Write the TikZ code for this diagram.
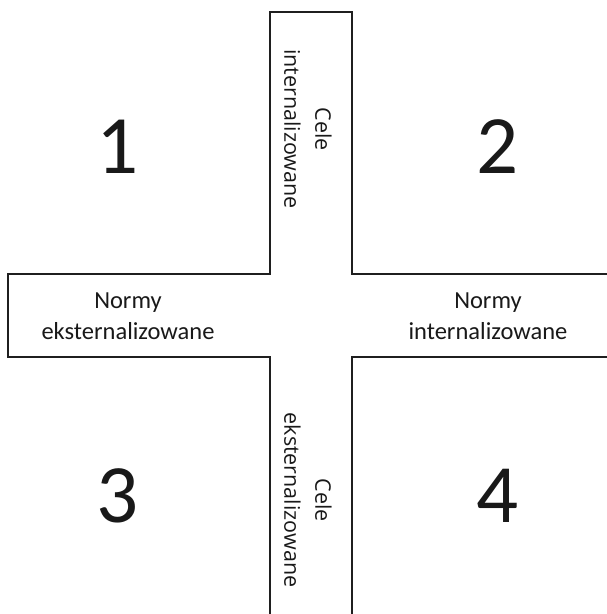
\documentclass[tikz,border=0pt]{standalone}
\usepackage{fontspec}
\setmainfont{Carlito}
\newfontfamily\vertfont{Open Sans}
\begin{document}
\begin{tikzpicture}[x=1pt,y=-1pt,
  outline/.style={draw=black!88, line width=2pt, line join=miter},
  numlabel/.style={font=\fontsize{83}{83}\selectfont, text=black!90, inner sep=0pt},
  hlabel/.style={font=\fontsize{24.5}{31}\selectfont, align=center, text=black!90, inner sep=0pt},
  vlabel/.style={font=\vertfont\fontsize{21.5}{31}\selectfont, align=center, text=black!90, inner sep=0pt, rotate=-90}]
  \useasboundingbox (0,0) rectangle (607,614);
  % cross outline, open to the right and at the bottom
  \draw[outline] (607,274) -- (352,274) -- (352,12) -- (270,12) -- (270,274)
                 -- (8,274) -- (8,357) -- (270,357) -- (270,614);
  \draw[outline] (352,614) -- (352,357) -- (607,357);
  % quadrant numbers
  \node[numlabel] (q1) at (118,147) {1};
  \node[numlabel] (q2) at (498,147) {2};
  \node[numlabel] (q3) at (118,496) {3};
  \node[numlabel] (q4) at (498,496) {4};
  % arm labels
  \node[hlabel] (ne) at (128,316) {Normy\\eksternalizowane};
  \node[hlabel] (ni) at (488,316) {Normy\\internalizowane};
  \node[vlabel] (ci) at (308,129) {Cele\\internalizowane};
  \node[vlabel] (ce) at (308,500) {Cele\\eksternalizowane};
\end{tikzpicture}
\end{document}
